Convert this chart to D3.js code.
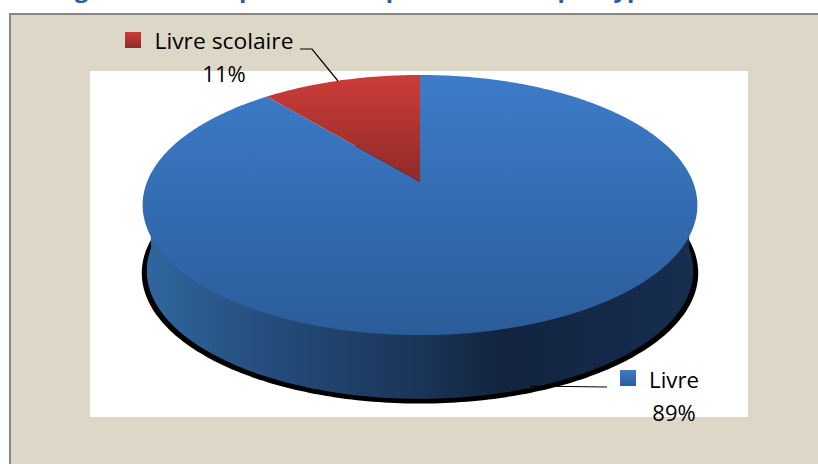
<!DOCTYPE html>
<html>
<head>
<meta charset="utf-8">
<script src="https://cdn.jsdelivr.net/npm/d3@7"></script>
<style>
  html, body { margin: 0; padding: 0; background: #fff; overflow: hidden; }
  text { font-family: "Open Sans", sans-serif; }
</style>
</head>
<body>
<div id="chart"></div>
<script>
const categories = ['Livre', 'Livre scolaire'];
const shares = [89, 11];
const percentLabels = ['89%', '11%'];
const titleText = 'Diagramme de répartition du prêt des livres par type';

const width = 818, height = 464;
const svg = d3.select('#chart').append('svg')
  .attr('width', width)
  .attr('height', height)
  .style('display', 'block');

// Excel-style 3D pie: the disc is a perspective projection of a circle,
// which is why the slice apex sits above the middle of the ellipse
const cx = 420, apexY = 182, persp = 0.177, sx = 273, sy = 126, depth = 66;
function project(a, scale = 1, dy = 0) {
  const u = Math.sin(a), v = Math.cos(a), w = 1 + persp * v;
  return [cx + scale * sx * u / w, apexY + dy - scale * sy * v / w];
}
function rim(a0, a1, scale, dy) {
  const n = Math.max(2, Math.ceil(Math.abs(a1 - a0) * 60));
  return d3.range(n + 1).map(i => project(a0 + (a1 - a0) * i / n, scale, dy));
}
const line = d3.line();

const defs = svg.append('defs');
function gradient(id, stops, x1, y1, x2, y2) {
  const g = defs.append('linearGradient')
    .attr('id', id)
    .attr('gradientUnits', 'userSpaceOnUse')
    .attr('x1', x1).attr('y1', y1).attr('x2', x2).attr('y2', y2);
  stops.forEach(s => g.append('stop').attr('offset', s[0]).attr('stop-color', s[1]));
}
gradient('blueTop', [[0, '#3d7cc9'], [1, '#2b5c9a']], 0, 75, 0, 335);
gradient('redTop', [[0, '#cd3c38'], [1, '#8f2a28']], 0, 75, 0, 182);
gradient('side', [[0, '#30669f'], [0.25, '#234a78'], [0.5, '#1a3558'], [0.65, '#12243e'], [0.85, '#14294a'], [1, '#172e4e']], 145, 0, 695, 0);
gradient('blueKey', [[0, '#3d7cc9'], [1, '#2b5c9a']], 0, 370, 0, 386);
gradient('redKey', [[0, '#cd3c38'], [1, '#8f2a28']], 0, 32, 0, 48);

// chart frame, its right and bottom edges fall outside the picture
svg.append('rect')
  .attr('x', 10).attr('y', 14)
  .attr('width', width).attr('height', height)
  .attr('fill', '#ddd7c8')
  .attr('stroke', '#868686')
  .attr('stroke-width', 2);
svg.append('rect')
  .attr('x', 90).attr('y', 71)
  .attr('width', 658).attr('height', 346)
  .attr('fill', '#fff');

// title, only the descenders show above the frame
svg.append('text')
  .attr('x', 36)
  .attr('y', -3)
  .attr('font-size', 24)
  .attr('font-weight', 700)
  .attr('fill', '#2f5a9b')
  .attr('textLength', 620)
  .text(titleText);

const pie = d3.pie().sort(null).value(d => d);
const arcs = pie(shares);

// shadow and side wall
svg.append('path')
  .attr('d', line(rim(0, 2 * Math.PI, 1.003, 68)) + 'Z')
  .attr('fill', '#000');
const frontLeft = 1.5 * Math.PI, frontRight = 0.5 * Math.PI;
const wall = rim(frontRight, frontLeft, 0.99, 0).concat(rim(frontLeft, frontRight, 0.985, depth));
svg.append('path')
  .attr('d', line(wall) + 'Z')
  .attr('fill', 'url(#side)');

// disc
const fills = ['url(#blueTop)', 'url(#redTop)'];
svg.selectAll('.slice')
  .data(arcs)
  .enter()
  .append('path')
  .attr('class', 'slice')
  .attr('d', d => line([[cx, apexY]].concat(rim(d.startAngle, d.endAngle, 1, 0))) + 'Z')
  .attr('fill', (d, i) => fills[i]);

// leader lines
const leaders = [
  [[607, 387], [530, 386]],
  [[300, 49], [312, 49], [338, 81]]
];
svg.selectAll('.leader')
  .data(leaders)
  .enter()
  .append('path')
  .attr('class', 'leader')
  .attr('d', d => line(d))
  .attr('fill', 'none')
  .attr('stroke', '#000')
  .attr('stroke-width', 1.2);

// data labels
const keyFills = ['url(#blueKey)', 'url(#redKey)'];
const labelPos = [
  { keyX: 620, keyY: 370, keyS: 16, midX: 674, y1: 388, y2: 421, len: 50 },
  { keyX: 125, keyY: 32, keyS: 16, midX: 224, y1: 49, y2: 82, len: 139 }
];
categories.forEach((c, i) => {
  const p = labelPos[i];
  svg.append('rect')
    .attr('x', p.keyX).attr('y', p.keyY)
    .attr('width', p.keyS).attr('height', p.keyS)
    .attr('fill', keyFills[i]);
  svg.append('text')
    .attr('x', p.midX).attr('y', p.y1)
    .attr('text-anchor', 'middle')
    .attr('font-size', 22)
    .attr('fill', '#000')
    .attr('textLength', p.len)
    .attr('lengthAdjust', 'spacingAndGlyphs')
    .text(c);
  svg.append('text')
    .attr('x', p.midX).attr('y', p.y2)
    .attr('text-anchor', 'middle')
    .attr('font-size', 22)
    .attr('fill', '#000')
    .text(percentLabels[i]);
});
</script>
</body>
</html>
